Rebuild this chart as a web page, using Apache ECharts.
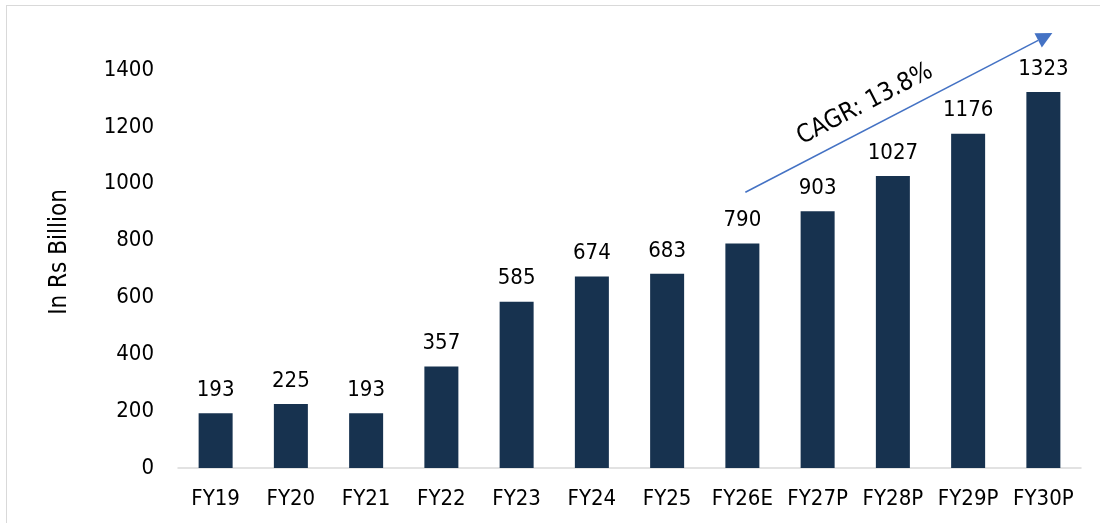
<!DOCTYPE html>
<html>
<head>
<meta charset="utf-8">
<script src="https://cdn.jsdelivr.net/npm/echarts@6/dist/echarts.min.js"></script>
<style>
  html, body { margin: 0; padding: 0; background: #fff; }
  #frame { position: absolute; left: 6px; top: 5px; width: 1100px; height: 530px; border: 1.5px solid #d9d9d9; box-sizing: border-box; }
  #chart { width: 1100px; height: 523px; position: absolute; left: 0; top: 0; }
</style>
</head>
<body>
<div id="frame"></div>
<div id="chart"></div>
<script>
// Fiscal years and revenue (Rs billion)
const years = ['FY19', 'FY20', 'FY21', 'FY22', 'FY23', 'FY24', 'FY25', 'FY26E', 'FY27P', 'FY28P', 'FY29P', 'FY30P'];
const revenue = [193, 225, 193, 357, 585, 674, 683, 790, 903, 1027, 1176, 1323];
const yTicks = [0, 200, 400, 600, 800, 1000, 1200, 1400];

// Growth arrow endpoints in data space: [category, value]
const cagrStart = ['FY26E', 970];
const cagrEnd = ['FY30P', 1530];
const cagrText = 'CAGR: 13.8%';

const FONT = '"DejaVu Sans Condensed", "Liberation Sans", sans-serif';
const chart = echarts.init(document.getElementById('chart'));

chart.setOption({
  animation: false,
  grid: { left: 178, right: 19, top: 70, bottom: 55 },
  xAxis: {
    type: 'category',
    data: years,
    axisLine: { lineStyle: { color: '#d9d9d9', width: 1.5 } },
    axisTick: { show: false },
    axisLabel: { color: '#000', fontSize: 22, fontFamily: FONT, margin: 20, interval: 0 }
  },
  yAxis: {
    type: 'value',
    min: yTicks[0],
    max: yTicks[yTicks.length - 1],
    interval: 200,
    name: 'In Rs Billion',
    nameLocation: 'middle',
    nameGap: 106,
    nameTextStyle: { color: '#000', fontSize: 24, fontFamily: FONT, padding: [0, 0, 0, 34] },
    axisLine: { show: false },
    axisTick: { show: false },
    splitLine: { show: false },
    axisLabel: { color: '#000', fontSize: 22, fontFamily: FONT, margin: 24, formatter: v => String(v) }
  },
  series: [{
    type: 'bar',
    data: revenue,
    barWidth: 34,
    itemStyle: { color: '#17324f' },
    label: {
      show: true,
      position: 'top',
      distance: 12,
      color: '#000',
      fontSize: 22,
      fontFamily: FONT
    }
  }]
});

// Growth arrow with rotated CAGR caption
function drawArrow() {
  const p0 = chart.convertToPixel({ gridIndex: 0 }, cagrStart);
  const p1 = chart.convertToPixel({ gridIndex: 0 }, cagrEnd);
  p0[0] += 3; p1[0] += 9;
  const ang = Math.atan2(p1[1] - p0[1], p1[0] - p0[0]);
  const head = 16, half = 8;
  const bx = p1[0] - head * Math.cos(ang), by = p1[1] - head * Math.sin(ang);
  const nx = -Math.sin(ang), ny = Math.cos(ang);
  const t = 0.424, off = 23;
  const cx = p0[0] + t * (p1[0] - p0[0]) + off * Math.sin(ang);
  const cy = p0[1] + t * (p1[1] - p0[1]) - off * Math.cos(ang);
  chart.setOption({
    graphic: [
      { type: 'line', shape: { x1: p0[0], y1: p0[1], x2: bx, y2: by }, style: { stroke: '#4472c4', lineWidth: 1.5 } },
      { type: 'polygon', shape: { points: [[p1[0], p1[1]], [bx + nx * half, by + ny * half], [bx - nx * half, by - ny * half]] }, style: { fill: '#4472c4' } },
      { type: 'text', x: cx, y: cy, rotation: -ang,
        style: { text: cagrText, fill: '#000', fontSize: 25, fontFamily: FONT, align: 'center', verticalAlign: 'middle' } }
    ]
  });
}
drawArrow();
</script>
</body>
</html>
